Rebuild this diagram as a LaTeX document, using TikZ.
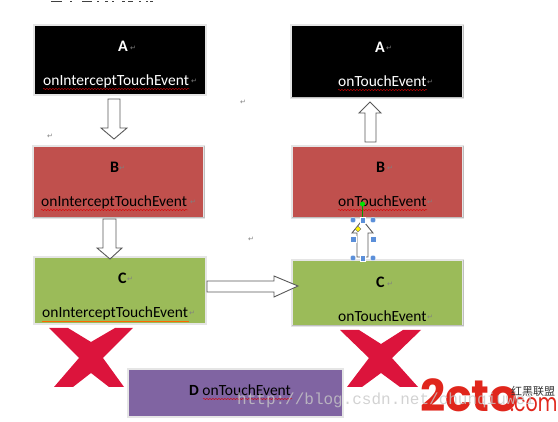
\documentclass[tikz,border=0pt]{standalone}
\usepackage{fontspec}
\setmainfont{Carlito}
\newfontfamily\djv{DejaVu Sans}
\newfontfamily\mono{Liberation Mono}
\newfontfamily\cjk{Noto Sans CJK SC}
\newfontfamily\logo{Poppins}
\usetikzlibrary{shapes.geometric}
\usetikzlibrary{decorations.pathmorphing}
\definecolor{redbox}{HTML}{C0504D}
\definecolor{greenbox}{HTML}{9BBB59}
\definecolor{purplebox}{HTML}{8064A2}
\definecolor{crossred}{HTML}{DC143C}
\definecolor{logored}{HTML}{E0261C}
\definecolor{handle}{HTML}{5B8FD9}
\tikzset{
 frame/.style={draw=black!10,line width=2.5pt,inner sep=0pt,outer sep=0pt},
 big/.style={font=\fontsize{15.5}{15.5}\selectfont,inner sep=0pt,anchor=base west},
 head/.style={font=\bfseries\fontsize{16}{16}\selectfont,inner sep=0pt,anchor=base west},
 fat/.style={draw=black!65,fill=white,line width=0.9pt},
 cross/.style={fill=crossred,draw=none},
 squig/.style={draw=red!85!black,line width=0.4pt,decorate,decoration={snake,amplitude=0.6pt,segment length=3pt}},
 cornerh/.style={circle,fill=handle,draw=white,line width=0.2pt,inner sep=0pt,minimum size=5.5pt},
 sideh/.style={rectangle,fill=handle,draw=white,line width=0.2pt,inner sep=0pt,minimum size=5.5pt},
 retm/.style={inner sep=0pt,font=\djv\fontsize{7}{7}\selectfont,text=gray},
 shade1/.style={draw=black!25,line width=1pt},
 cutoff/.style={draw=black!75,line width=1pt},
}
\begin{document}
\begin{tikzpicture}[x=1pt,y=-1pt]
\useasboundingbox (0,0) rectangle (558,422);
% cut-off line of text at the top edge
\draw[cutoff] (51,2)--(62,2) (70,2)--(72,2) (82,2)--(92,2) (97,2)--(99,2) (105,2)--(108,2) (112,2)--(114,2) (122,2)--(125,2) (128,2)--(133,2) (139,2)--(141,2) (146,2)--(148,2) (150,2)--(153,2);
% crosses
\fill[cross] (49,328)--(68,328)--(91,342)--(115,328)--(133,328)--(103,358)--(124,387)--(109,387)--(91,373)--(73,387)--(54,387)--(79,358)--cycle;
\fill[cross] (340,330)--(359,330)--(381,344)--(403,330)--(421,330)--(392,358)--(418,387)--(400,387)--(381,373)--(362,387)--(347,387)--(369,358)--cycle;
% boxes
\node[frame,fill=black,minimum width=172pt,minimum height=70pt] (a1) at (120,60) {};
\node[frame,fill=black,minimum width=172pt,minimum height=73pt] (a2) at (377,61.5) {};
\node[frame,fill=redbox,minimum width=171pt,minimum height=72pt] (b1) at (118.5,182) {};
\node[frame,fill=redbox,minimum width=171pt,minimum height=72pt] (b2) at (377.5,182) {};
\node[frame,fill=greenbox,minimum width=172pt,minimum height=67pt] (c1) at (120,290.5) {};
\node[frame,fill=greenbox,minimum width=171pt,minimum height=66pt] (c2) at (377.5,293) {};
\node[frame,fill=purplebox,minimum width=215pt,minimum height=48pt] (d) at (235.5,393) {};
% shadows
\draw[shade1] (b1.north east)--(b1.south east)--(b1.south west);
\draw[shade1] (a2.north east)--(a2.south east)--(a2.south west);
\draw[shade1] (b2.north east)--(b2.south east)--(b2.south west);
\draw[shade1] (c2.north east)--(c2.south east)--(c2.south west);
% arrows
\draw[fat] (108,99)--(120,99)--(120,128)--(127,128)--(114,139)--(101,128)--(108,128)--cycle;
\draw[fat] (103,219)--(116,219)--(116,248)--(122,248)--(110,259)--(97,248)--(103,248)--cycle;
\draw[fat] (207,281)--(274,281)--(274,276)--(298,286)--(274,297)--(274,292)--(207,292)--cycle;
\draw[fat] (365,142)--(376,142)--(376,113)--(381,113)--(370,102)--(359,113)--(365,113)--cycle;
\draw[fat] (357,257)--(368,257)--(368,233)--(373,233)--(362.5,220)--(352,233)--(357,233)--cycle;
% labels
\node[head,text=white] (la1) at (118,52) {A};
\node[big,text=white] (ta1) at (43,86) {onInterceptTouchEvent};
\node[head,text=white] (la2) at (375,53) {A};
\node[big,text=white] (ta2) at (338,87) {onTouchEvent};
\node[head] (lb1) at (110,173) {B};
\node[big] (tb1) at (41,207) {onInterceptTouchEvent};
\node[head] (lb2) at (376,173) {B};
\node[big] (tb2) at (338,207) {onTouchEvent};
\node[head] (lc1) at (118,284) {C};
\node[big] (tc1) at (42,318) {onInterceptTouchEvent};
\node[head] (lc2) at (376,288) {C};
\node[big] (tc2) at (338,322) {onTouchEvent};
\node[big] (td) at (189,396) {\textbf{D} onTouchEvent};
% squiggles
\draw[squig] (43,89)--(190,89);
\draw[squig] (338,90)--(427,90);
\draw[squig] (41,210)--(188,210);
\draw[squig] (338,210)--(427,210);
\draw[orange!80!red,line width=0.5pt] (42,321)--(189,321);
\draw[squig] (203,399)--(292,399);
% return marks
\node[retm] at (133,48) {↵};
\node[retm] at (194,81) {↵};
\node[retm] at (122,168) {↵};
\node[retm] at (193,202) {↵};
\node[retm] at (130,279) {↵};
\node[retm] at (192,313) {↵};
\node[retm] at (389,48) {↵};
\node[retm] at (430,82) {↵};
\node[retm] at (390,168) {↵};
\node[retm] at (430,202) {↵};
\node[retm] at (390,284) {↵};
\node[retm] at (430,317) {↵};
\node[retm] at (243,102) {↵};
\node[retm] at (50,136) {↵};
\node[retm] at (251,239) {↵};
% selection handles
\coordinate (tiptop) at (362.5,204);
\node[sideh] (ht) at (362.5,220) {};
\draw[green!60!black,line width=0.6pt] (tiptop)--(ht);
\node[circle,fill=green!90!black,inner sep=0pt,minimum size=5pt] (gh) at (tiptop) {};
\node[cornerh] (h1) at (353,220) {};
\node[cornerh] (h2) at (373,220) {};
\node[sideh] (h3) at (353,239) {};
\node[sideh] (h4) at (373,239) {};
\node[cornerh] (h5) at (353,258) {};
\node[sideh] (h6) at (362.5,258) {};
\node[cornerh] (h7) at (373,258) {};
\node[diamond,fill=yellow,draw=black!60,inner sep=0pt,minimum size=6pt] (yh) at (358,229) {};
% logo
\node[inner sep=0pt,anchor=base west,text=logored,font=\logo\bfseries\fontsize{44}{44}\selectfont] (logo) at (420,412) {2cto};
\node[inner sep=0pt,anchor=base west,text=logored,font=\logo\fontsize{25}{25}\selectfont] (logoc) at (510,412) {\scalebox{0.76}[1]{.com}};
\node[inner sep=0pt,anchor=base west,text=black!80,font=\cjk\fontsize{11}{11}\selectfont] (logot) at (511,396) {红黑联盟};
% watermark
\node[inner sep=0pt,anchor=base west,text=black!22,opacity=.8,font=\mono\fontsize{16}{16}\selectfont] (wm) at (237,405) {http://blog.csdn.net/chunqiuwei};
\end{tikzpicture}
\end{document}
